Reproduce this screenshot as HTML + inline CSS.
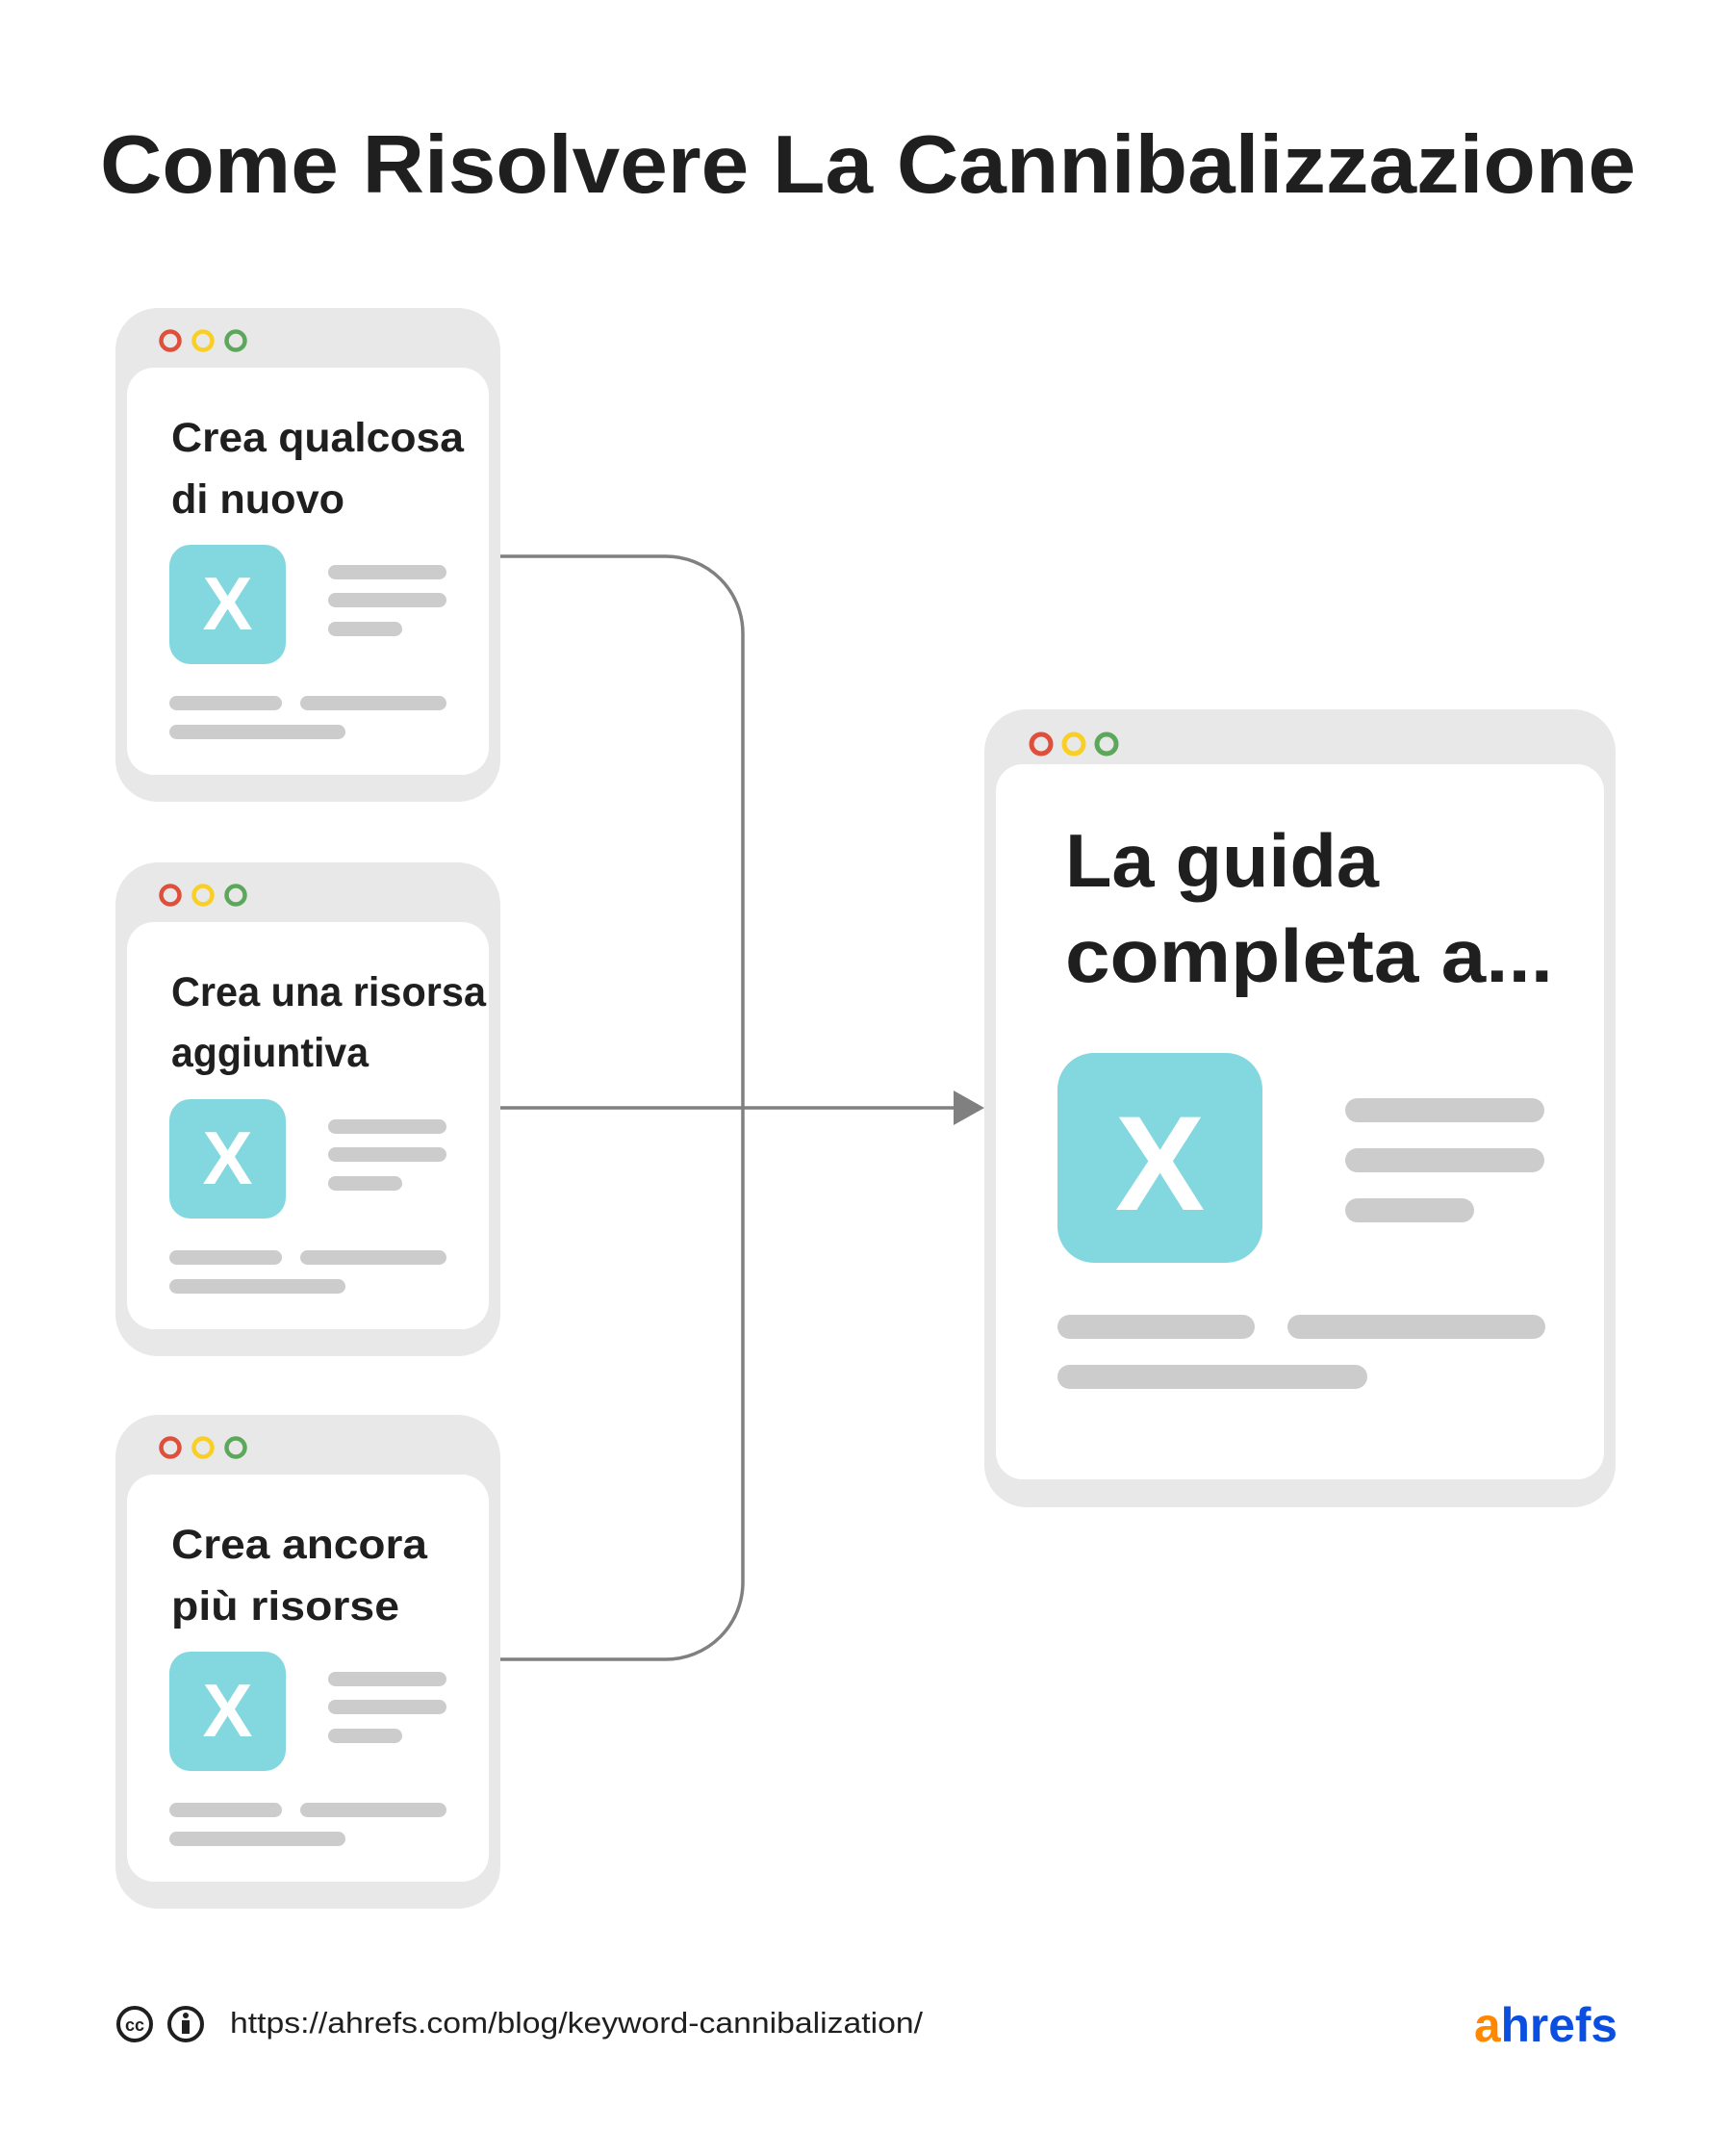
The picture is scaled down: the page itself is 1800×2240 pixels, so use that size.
<!DOCTYPE html>
<html><head><meta charset="utf-8"><style>html,body{margin:0;padding:0;background:#fff}svg{display:block}</style></head>
<body>
<svg width="1800" height="2240" viewBox="0 0 1800 2240" xmlns="http://www.w3.org/2000/svg" font-family="Liberation Sans, Arial, sans-serif">
<defs>
<g id="card">
  <rect x="120" y="0" width="400" height="513" rx="44" fill="#e8e8e8"/>
  <rect x="132" y="62" width="376" height="423" rx="28" fill="#fff"/>
  <circle cx="177" cy="34" r="9.5" fill="none" stroke="#de4f3c" stroke-width="4.5"/>
  <circle cx="211" cy="34" r="9.5" fill="none" stroke="#f9cf26" stroke-width="4.5"/>
  <circle cx="245" cy="34" r="9.5" fill="none" stroke="#5ca85a" stroke-width="4.5"/>
  <rect x="176" y="246" width="121" height="124" rx="22" fill="#83d8df"/>
  <text x="236.5" y="334" font-size="78" font-weight="bold" fill="#fff" text-anchor="middle">X</text>
  <rect x="341" y="267" width="123" height="15" rx="7.5" fill="#cccccc"/>
  <rect x="341" y="296" width="123" height="15" rx="7.5" fill="#cccccc"/>
  <rect x="341" y="326" width="77" height="15" rx="7.5" fill="#cccccc"/>
  <rect x="176" y="403" width="117" height="15" rx="7.5" fill="#cccccc"/>
  <rect x="312" y="403" width="152" height="15" rx="7.5" fill="#cccccc"/>
  <rect x="176" y="433" width="183" height="15" rx="7.5" fill="#cccccc"/>
</g>
</defs>
<text x="104" y="200" font-size="85" font-weight="bold" fill="#1f1f1f" textLength="1596" lengthAdjust="spacingAndGlyphs">Come Risolvere La Cannibalizzazione</text>

<use href="#card" y="320"/>
<use href="#card" y="896"/>
<use href="#card" y="1470"/>

<g font-size="43" font-weight="bold" fill="#1f1f1f">
<text x="178" y="469" textLength="304" lengthAdjust="spacingAndGlyphs">Crea qualcosa</text>
<text x="178" y="533" textLength="180" lengthAdjust="spacingAndGlyphs">di nuovo</text>
<text x="178" y="1045" textLength="327" lengthAdjust="spacingAndGlyphs">Crea una risorsa</text>
<text x="178" y="1108" textLength="205" lengthAdjust="spacingAndGlyphs">aggiuntiva</text>
<text x="178" y="1619" textLength="266" lengthAdjust="spacingAndGlyphs">Crea ancora</text>
<text x="178" y="1683" textLength="237" lengthAdjust="spacingAndGlyphs">più risorse</text>
</g>

<g fill="none" stroke="#808080" stroke-width="3.5">
<path d="M520 578 H692 A80 80 0 0 1 772 658 V1644 A80 80 0 0 1 692 1724 H520"/>
<path d="M520 1151 H992"/>
</g>
<polygon points="991,1133 1023,1151 991,1169" fill="#808080"/>

<rect x="1023" y="737" width="656" height="829" rx="44" fill="#e8e8e8"/>
<rect x="1035" y="794" width="632" height="743" rx="28" fill="#fff"/>
<circle cx="1082" cy="773" r="10" fill="none" stroke="#de4f3c" stroke-width="5"/>
<circle cx="1116" cy="773" r="10" fill="none" stroke="#f9cf26" stroke-width="5"/>
<circle cx="1150" cy="773" r="10" fill="none" stroke="#5ca85a" stroke-width="5"/>
<text x="1107" y="921" font-size="78" font-weight="bold" fill="#1f1f1f" textLength="326" lengthAdjust="spacingAndGlyphs">La guida</text>
<text x="1107" y="1020" font-size="78" font-weight="bold" fill="#1f1f1f" textLength="507" lengthAdjust="spacingAndGlyphs">completa a...</text>
<rect x="1099" y="1094" width="213" height="218" rx="38" fill="#83d8df"/>
<text x="1205.5" y="1257" font-size="140" font-weight="bold" fill="#fff" text-anchor="middle">X</text>
<rect x="1398" y="1141" width="207" height="25" rx="12.5" fill="#cccccc"/>
<rect x="1398" y="1193" width="207" height="25" rx="12.5" fill="#cccccc"/>
<rect x="1398" y="1245" width="134" height="25" rx="12.5" fill="#cccccc"/>
<rect x="1099" y="1366" width="205" height="25" rx="12.5" fill="#cccccc"/>
<rect x="1338" y="1366" width="268" height="25" rx="12.5" fill="#cccccc"/>
<rect x="1099" y="1418" width="322" height="25" rx="12.5" fill="#cccccc"/>

<circle cx="140" cy="2103" r="17" fill="none" stroke="#1f1f1f" stroke-width="4"/>
<text x="140" y="2110" font-size="18" font-weight="bold" fill="#1f1f1f" text-anchor="middle">cc</text>
<circle cx="193" cy="2103" r="17" fill="none" stroke="#1f1f1f" stroke-width="4"/>
<circle cx="193" cy="2094" r="3" fill="#1f1f1f"/>
<rect x="189" y="2099" width="8" height="14" fill="#1f1f1f"/>
<text x="239" y="2112" font-size="31" fill="#1f1f1f" textLength="720" lengthAdjust="spacingAndGlyphs">https://ahrefs.com/blog/keyword-cannibalization/</text>
<text x="1532" y="2121" font-size="50" font-weight="bold" fill="#0a4fe0" textLength="149" lengthAdjust="spacingAndGlyphs"><tspan fill="#ff8800">a</tspan>hrefs</text>
</svg>
</body></html>
